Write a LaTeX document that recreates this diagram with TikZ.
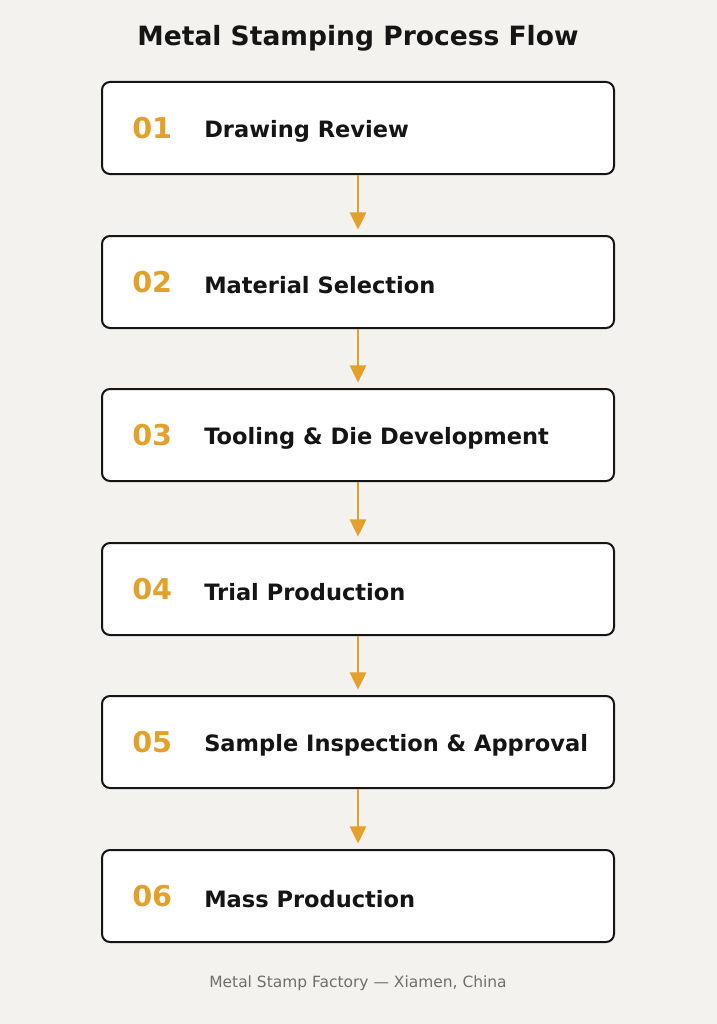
\documentclass[tikz,border=0pt]{standalone}
\usepackage{fontspec}
\setmainfont{DejaVu Sans}
\usetikzlibrary{arrows.meta}
\definecolor{bgc}{HTML}{F4F2EE}
\definecolor{gold}{HTML}{E3A02A}
\definecolor{ink}{HTML}{151515}
\definecolor{foot}{HTML}{6E6E6E}
\tikzset{
  stepbox/.style={draw=ink, line width=1.5pt, fill=white, rounded corners=6pt, minimum width=384pt, minimum height=69pt, inner sep=0pt},
  num/.style={anchor=west, text=gold, font=\bfseries\fontsize{21.5pt}{25pt}\selectfont, inner sep=0pt},
  lab/.style={anchor=west, text=ink, font=\bfseries\fontsize{16.9pt}{20pt}\selectfont, inner sep=0pt},
  flow/.style={draw=gold, line width=2.2pt, -{Triangle[length=13pt,width=12pt]}, shorten >=4pt}
}
\begin{document}
\begin{tikzpicture}[x=0.75pt,y=-0.75pt]
\fill[bgc] (0,0) rectangle (717,1024);
\useasboundingbox (0,0) rectangle (717,1024);
\node[text=ink, font=\bfseries\fontsize{19.9pt}{24pt}\selectfont] (title) at (358,38.5) {Metal Stamping Process Flow};
\node[stepbox] (b1) at (358,128) {};
\node[stepbox] (b2) at (358,282) {};
\node[stepbox] (b3) at (358,435) {};
\node[stepbox] (b4) at (358,589) {};
\node[stepbox] (b5) at (358,742) {};
\node[stepbox] (b6) at (358,896) {};
\node[num] (n1) at (132,128) {01};
\node[num] (n2) at (132,282) {02};
\node[num] (n3) at (132,435) {03};
\node[num] (n4) at (132,589) {04};
\node[num] (n5) at (132,742) {05};
\node[num] (n6) at (132,896) {06};
\node[lab] (l1) at (204,131) {Drawing Review};
\node[lab] (l2) at (204,285) {Material Selection};
\node[lab] (l3) at (204,438) {Tooling \& Die Development};
\node[lab] (l4) at (204,592) {Trial Production};
\node[lab] (l5) at (204,745) {Sample Inspection \& Approval};
\node[lab] (l6) at (204,899) {Mass Production};
\draw[flow] (b1.south) -- (b2.north);
\draw[flow] (b2.south) -- (b3.north);
\draw[flow] (b3.south) -- (b4.north);
\draw[flow] (b4.south) -- (b5.north);
\draw[flow] (b5.south) -- (b6.north);
\node[text=foot, font=\fontsize{11.6pt}{14pt}\selectfont] (footer) at (358,983) {Metal Stamp Factory — Xiamen, China};
\end{tikzpicture}
\end{document}
